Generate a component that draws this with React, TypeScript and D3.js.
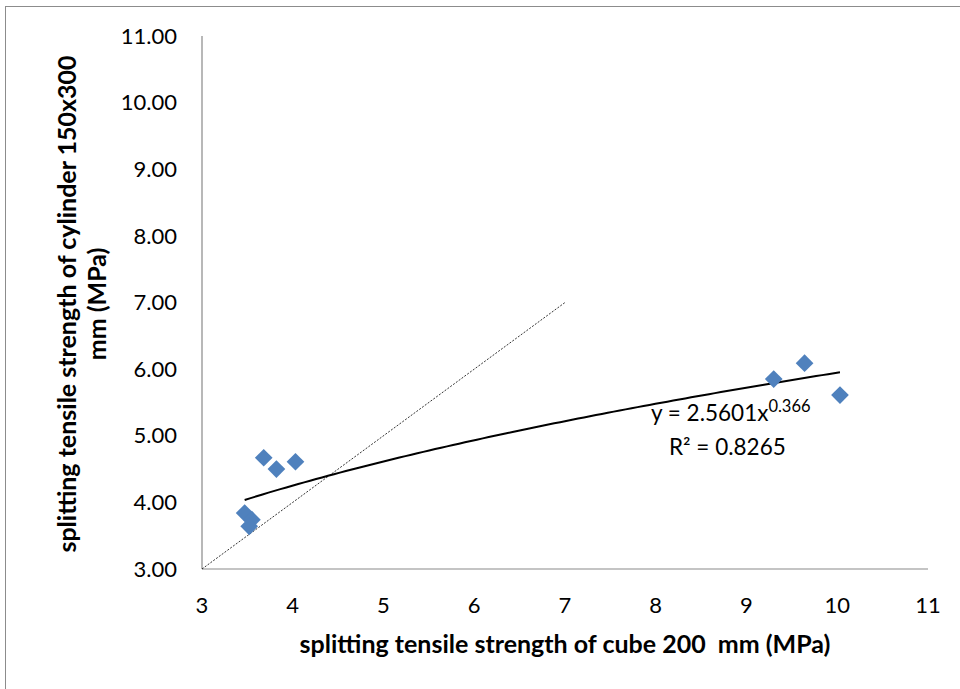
import React from "react";
import * as d3 from "d3";

const cubeStrength = [3.68, 3.82, 4.03, 3.47, 3.55, 3.52, 9.3, 9.64, 10.03];
const cylinderStrength = [4.67, 4.5, 4.61, 3.84, 3.74, 3.64, 5.85, 6.09, 5.61];
const xTicks = [3, 4, 5, 6, 7, 8, 9, 10, 11];
const yTicks = [3, 4, 5, 6, 7, 8, 9, 10, 11];
const trendA = 2.5601;
const trendB = 0.366;
const equalityLine = [3, 7];

const W = 960;
const H = 689;
const FONT = "Lato, 'Open Sans', sans-serif";

export default function App() {
  const x = d3.scaleLinear().domain([3, 11]).range([202, 928]);
  const y = d3.scaleLinear().domain([3, 11]).range([569, 36]);

  const xMin = d3.min(cubeStrength) as number;
  const xMax = d3.max(cubeStrength) as number;
  const trendXs = d3.range(0, 101).map((i) => xMin + ((xMax - xMin) * i) / 100);
  const line = d3
    .line<number>()
    .x((d) => x(d))
    .y((d) => y(trendA * Math.pow(d, trendB)));

  const diamond = d3.symbol().type(d3.symbolDiamond2).size(200)();

  return (
    <svg
      width={W}
      height={H}
      style={{ position: "absolute", left: 0, top: 0, background: "#fff" }}
      fontFamily={FONT}
    >
      <rect x={5.5} y={6.5} width={W + 10} height={H + 10} fill="none" stroke="#8c8c8c" strokeWidth={1} />
      <line x1={x(3)} x2={x(3)} y1={y(11)} y2={y(3)} stroke="#898989" strokeWidth={1.2} />
      <line x1={x(3)} x2={x(11)} y1={y(3)} y2={y(3)} stroke="#898989" strokeWidth={1.2} />
      {yTicks.map((t) => (
        <text key={"y" + t} x={177} y={y(t)} dy="0.35em" textAnchor="end" fontSize={22} fill="#000">
          {t.toFixed(2)}
        </text>
      ))}
      {xTicks.map((t) => (
        <text key={"x" + t} x={x(t)} y={605} dy="0.35em" textAnchor="middle" fontSize={22} fill="#000">
          {t}
        </text>
      ))}
      <line
        x1={x(equalityLine[0])}
        y1={y(equalityLine[0])}
        x2={x(equalityLine[1])}
        y2={y(equalityLine[1])}
        stroke="#000"
        strokeWidth={0.8}
        strokeDasharray="2,1.5"
      />
      <path d={line(trendXs) || ""} fill="none" stroke="#000" strokeWidth={2} />
      {cubeStrength.map((cx, i) => (
        <path
          key={"p" + i}
          d={diamond || ""}
          transform={`translate(${x(cx)},${y(cylinderStrength[i])})`}
          fill="#4f81bd"
        />
      ))}
      <text x={651} y={421} fontSize={22.5} fill="#000">
        y = 2.5601x
        <tspan dy={-9} fontSize={16.5}>
          0.366
        </tspan>
      </text>
      <text x={669} y={455} fontSize={22.5} fill="#000">
        R² = 0.8265
      </text>
      <text
        x={565}
        y={653}
        textAnchor="middle"
        fontSize={25}
        fontWeight="bold"
        fill="#000"
        style={{ whiteSpace: "pre" }}
      >
        {"splitting tensile strength of cube 200  mm (MPa)"}
      </text>
      <g transform="translate(0,304) rotate(-90)">
        <text x={0} y={76} textAnchor="middle" fontSize={25} fontWeight="bold" fill="#000">
          splitting tensile strength of cylinder 150x300
        </text>
        <text x={0} y={106} textAnchor="middle" fontSize={25} fontWeight="bold" fill="#000">
          mm (MPa)
        </text>
      </g>
    </svg>
  );
}
